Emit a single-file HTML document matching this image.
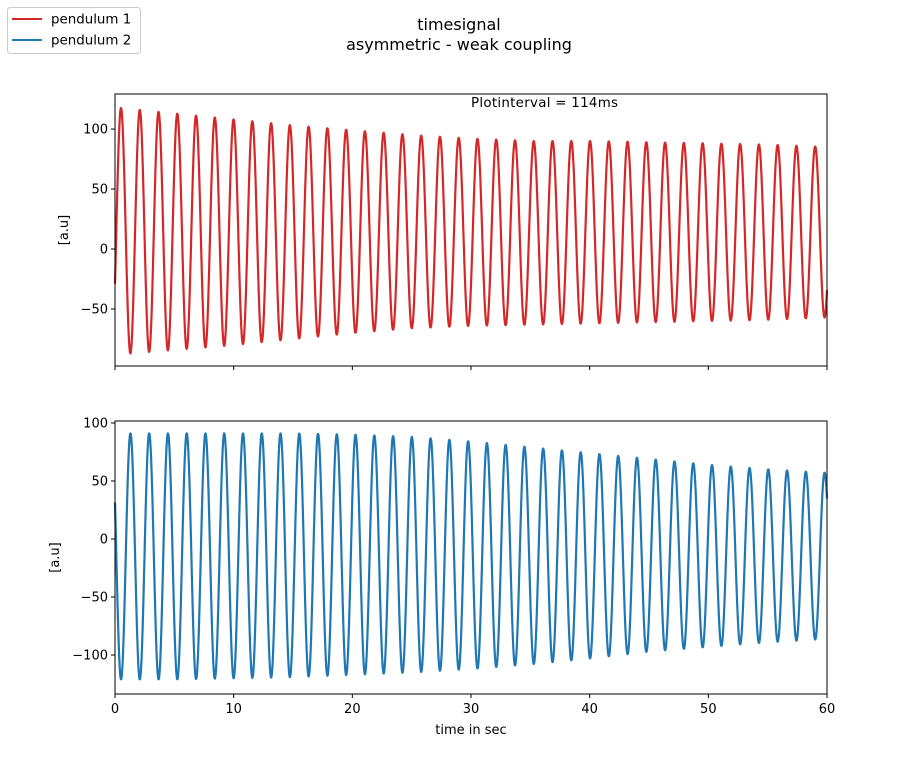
<!DOCTYPE html>
<html><head><meta charset="utf-8"><style>
body{margin:0;background:#fff;font-family:"DejaVu Sans",sans-serif;}
</style></head><body>
<svg id="c" width="919" height="780" xmlns="http://www.w3.org/2000/svg" font-family="DejaVu Sans, sans-serif">
<rect width="919" height="780" fill="#fff"/>
<text x="459" y="30" text-anchor="middle" font-size="16">timesignal</text>
<text x="459" y="50" text-anchor="middle" font-size="16">asymmetric - weak coupling</text>
<g>
<rect x="7.5" y="7.5" width="133" height="46" rx="3" fill="#fff" stroke="#ccc"/>
<line x1="12" y1="19" x2="42" y2="19" stroke="#d62728" stroke-width="2"/>
<text x="51" y="23.5" font-size="13.4">pendulum 1</text>
<line x1="12" y1="40" x2="42" y2="40" stroke="#1f77b4" stroke-width="2"/>
<text x="51" y="44.5" font-size="13.4">pendulum 2</text>
</g>
<text x="471" y="107" font-size="13.4" textLength="147">Plotinterval = 114ms</text>
<g id="g"></g>
</svg>
<script>
const envTimes=[0,5,10,15,20,25,30,35,40,45,50,55,60];
const p1Max=[118,113,108,103,99,95,92,90,90,89,88,87,85];
const p1Min=[-88,-84,-80,-75,-70,-66,-64,-63,-62,-61,-60,-59,-57];
const p2Max=[91,91,91,91,90,88,84,79,74,69,64,60,57];
const p2Min=[-121,-121,-120,-119,-117,-115,-112,-108,-103,-97,-93,-89,-86];
const period=[1.581];
const firstPeak=[0.506,1.30];
const xTicks=[0,10,20,30,40,50,60];
const yTicksTop=[-50,0,50,100];
const yTicksBot=[-100,-50,0,50,100];

const NS="http://www.w3.org/2000/svg";
const g=document.getElementById('g');
function el(t,a,p){const e=document.createElementNS(NS,t);for(const k in a)e.setAttribute(k,a[k]);(p||g).appendChild(e);return e;}
const X0=115,X1=827;
const xs=t=>X0+(t-0)/(60-0)*(X1-X0);
function interp(arr,t){let i=Math.min(Math.floor(t/5),arr.length-2);const f=(t-envTimes[i])/5;return arr[i]+(arr[i+1]-arr[i])*f;}
function panel(name,top,bot,vmax,vmin,ticks,maxA,minA,tp,color,showX,ylabX){
  const ys=v=>top+(vmax-v)/(vmax-vmin)*(bot-top);
  const grp=el('g',{});
  
  
  let pts=[];
  for(let i=0;i<=3000;i++){const t=i*60/3000;const mx=interp(maxA,t),mn=interp(minA,t);
    const v=(mx+mn)/2+(mx-mn)/2*Math.cos(2*Math.PI*(t-tp)/period[0]);
    pts.push(xs(t).toFixed(2)+','+ys(v).toFixed(2));}
  const line=el('polyline',{points:pts.join(' '),fill:'none',stroke:color,'stroke-width':2.2,'stroke-linejoin':'round'},grp);
  
  
  el('rect',{x:X0,y:top,width:X1-X0,height:bot-top,fill:'none',stroke:'#000','stroke-width':1},grp);
  ticks.forEach(v=>{const y=ys(v);el('line',{x1:X0-4,x2:X0,y1:y,y2:y,stroke:'#000'},grp);
    const tx=el('text',{x:X0-7,y:y+4.5,'text-anchor':'end','font-size':13},grp);
    
    
    tx.textContent=v<0?'\u2212'+(-v):v;});
  xTicks.forEach(v=>{const x=xs(v);el('line',{x1:x,x2:x,y1:bot,y2:bot+4,stroke:'#000'},grp);
    if(showX){const tx=el('text',{x:x,y:bot+19,'text-anchor':'middle','font-size':13},grp);
      
      
      tx.textContent=v;}});
  const yl=el('text',{x:ylabX,y:(top+bot)/2,'text-anchor':'middle','font-size':13,transform:`rotate(-90 ${ylabX} ${(top+bot)/2})`},grp);
  
  
  yl.textContent='[a.u]';
}
panel('pendulum-1-panel',94,366,129.2,-97.5,yTicksTop,p1Max,p1Min,firstPeak[0],'#d62728',false,68);
panel('pendulum-2-panel',421,694,101.7,-133.6,yTicksBot,p2Max,p2Min,firstPeak[1],'#1f77b4',true,59);
const xl=el('text',{x:471,y:734,'text-anchor':'middle','font-size':13});


xl.textContent='time in sec';
</script>
</body></html>
